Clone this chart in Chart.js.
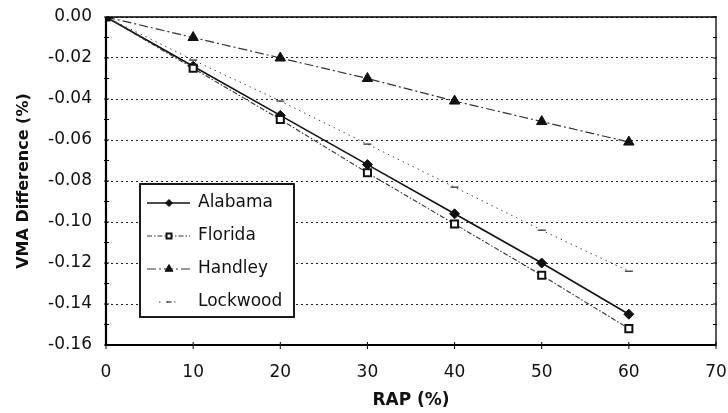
<!DOCTYPE html>
<html>
<head>
<meta charset="utf-8">
<script src="https://cdn.jsdelivr.net/npm/chart.js@4.4.1/dist/chart.umd.min.js"></script>
<style>
html,body{margin:0;padding:0;background:#fff;}
#wrap{width:728px;height:413px;position:relative;}
</style>
</head>
<body>
<div id="wrap"><canvas id="c" width="728" height="413"></canvas></div>
<script>
const rap = [0, 10, 20, 30, 40, 50, 60];
const alabama = [0, -0.024, -0.048, -0.072, -0.096, -0.120, -0.145];
const florida = [0, -0.025, -0.050, -0.076, -0.101, -0.126, -0.152];
const handley = [0, -0.010, -0.020, -0.030, -0.041, -0.051, -0.061];
const lockwood = [0, -0.021, -0.041, -0.062, -0.083, -0.104, -0.124];
const seriesNames = ['Alabama', 'Florida', 'Handley', 'Lockwood'];
const yTicks = [0, -0.02, -0.04, -0.06, -0.08, -0.10, -0.12, -0.14, -0.16];
const xTicks = [0, 10, 20, 30, 40, 50, 60, 70];

const FONT = '"DejaVu Sans", "Liberation Sans", Arial, sans-serif';
const pts = arr => rap.map((x, i) => ({x: x, y: arr[i]}));

const styles = [
  {data: alabama, borderColor: '#111', borderWidth: 1.6, borderDash: [], pointStyle: 'rectRot', pointRadius: 5, pointBackgroundColor: '#111', pointBorderColor: '#111', pointBorderWidth: 1},
  {data: florida, borderColor: '#333', borderWidth: 1.1, borderDash: [5, 2, 1.5, 2], pointStyle: 'rect', pointRadius: 5, pointBackgroundColor: '#fff', pointBorderColor: '#111', pointBorderWidth: 2},
  {data: handley, borderColor: '#333', borderWidth: 1.2, borderDash: [9, 3, 2, 3], pointStyle: 'triangle', pointRadius: 6, pointBackgroundColor: '#111', pointBorderColor: '#111', pointBorderWidth: 1},
  {data: lockwood, borderColor: '#444', borderWidth: 1, borderDash: [1.5, 4], pointStyle: 'line', pointRadius: 4, pointBackgroundColor: '#333', pointBorderColor: '#333', pointBorderWidth: 1.3}
];

const datasets = seriesNames.map((n, i) => Object.assign({
  label: n,
  fill: false,
  tension: 0,
  order: 4 - i
}, styles[i], {data: pts(styles[i].data)}));

const frame = {
  id: 'frame',
  afterDraw(chart) {
    const {ctx, chartArea: a} = chart;
    const xs = chart.scales.x, ys = chart.scales.y;
    ctx.save();
    ctx.strokeStyle = '#000';
    ctx.lineWidth = 1.3;
    ctx.beginPath();
    ctx.moveTo(a.left, a.top); ctx.lineTo(a.right, a.top); ctx.lineTo(a.right, a.bottom);
    ctx.stroke();
    ctx.lineWidth = 2.2;
    ctx.beginPath();
    ctx.moveTo(a.left, a.top); ctx.lineTo(a.left, a.bottom); ctx.lineTo(a.right, a.bottom);
    ctx.stroke();
    ctx.lineWidth = 1;
    for (let k = 0; k <= 16; k++) {
      const y = ys.getPixelForValue(-k * 0.01);
      ctx.beginPath();
      ctx.moveTo(a.left - 2, y); ctx.lineTo(a.left + 3, y);
      ctx.moveTo(a.right - 3, y); ctx.lineTo(a.right + 1, y);
      ctx.stroke();
    }
    for (const v of xTicks) {
      const x = xs.getPixelForValue(v);
      ctx.beginPath();
      ctx.moveTo(x, a.bottom - 3); ctx.lineTo(x, a.bottom + 4);
      ctx.stroke();
    }
    // legend
    const lx = a.left + 34, ly = a.top + 167;
    const lw = 154, lh = 133;
    ctx.fillStyle = '#fff';
    ctx.fillRect(lx, ly, lw, lh);
    ctx.lineWidth = 1.8;
    ctx.strokeStyle = '#000';
    ctx.strokeRect(lx, ly, lw, lh);
    ctx.font = '17px ' + FONT;
    ctx.textBaseline = 'middle';
    ctx.textAlign = 'left';
    chart.data.datasets.forEach((ds, i) => {
      const yy = ly + 19 + i * 33;
      const sx0 = lx + 7, sx1 = lx + 50, mx = lx + 29;
      if (i !== 3) {
        ctx.save();
        ctx.strokeStyle = ds.borderColor;
        ctx.lineWidth = ds.borderWidth;
        ctx.setLineDash(ds.borderDash);
        ctx.beginPath();
        ctx.moveTo(sx0, yy); ctx.lineTo(sx1, yy);
        ctx.stroke();
        ctx.restore();
      } else {
        ctx.save();
        ctx.strokeStyle = ds.borderColor;
        ctx.lineWidth = 1;
        ctx.setLineDash([1.5, 6]);
        ctx.beginPath();
        ctx.moveTo(sx0 + 12, yy); ctx.lineTo(sx1 - 10, yy);
        ctx.stroke();
        ctx.restore();
      }
      ctx.save();
      ctx.fillStyle = ds.pointBackgroundColor;
      ctx.strokeStyle = ds.pointBorderColor;
      ctx.lineWidth = ds.pointBorderWidth;
      Chart.helpers.drawPoint(ctx, {
        pointStyle: ds.pointStyle, radius: ds.pointRadius - 1.5, rotation: 0,
        borderWidth: ds.pointBorderWidth
      }, mx, yy);
      ctx.restore();
      ctx.fillStyle = '#111';
      ctx.fillText(ds.label, lx + 58, yy);
    });
    ctx.restore();
  }
};

new Chart(document.getElementById('c'), {
  type: 'line',
  data: {datasets: datasets},
  options: {
    responsive: false,
    animation: false,
    devicePixelRatio: 1,
    layout: {padding: {top: 17, right: 12, left: 0, bottom: 0}},
    plugins: {legend: {display: false}, tooltip: {enabled: false}},
    scales: {
      x: {
        type: 'linear', min: 0, max: 70,
        afterBuildTicks: s => { s.ticks = xTicks.map(v => ({value: v})); },
        grid: {display: false},
        border: {display: false},
        ticks: {color: '#111', font: {family: FONT, size: 17}, padding: 9, maxRotation: 0},
        title: {display: true, text: 'RAP (%)', color: '#111', font: {family: FONT, size: 17, weight: 'bold'}, padding: {top: 4, bottom: 2}},
        afterFit: s => { s.height = 68; s.paddingLeft = 0; s.paddingRight = 0; }
      },
      y: {
        type: 'linear', min: -0.16, max: 0,
        afterBuildTicks: s => { s.ticks = yTicks.map(v => ({value: v})); },
        grid: {display: true, color: '#222', lineWidth: 1, tickLength: 4, drawTicks: false},
        border: {display: false, dash: [2, 3]},
        ticks: {color: '#111', font: {family: FONT, size: 17}, padding: 14,
                callback: v => v.toFixed(2)},
        title: {display: true, text: 'VMA Difference (%)', color: '#111', font: {family: FONT, size: 16, weight: 'bold'}, padding: {top: 14, bottom: 4}},
        afterFit: s => { s.width = 106; s.paddingTop = 0; s.paddingBottom = 0; }
      }
    }
  },
  plugins: [frame]
});
</script>
</body>
</html>
